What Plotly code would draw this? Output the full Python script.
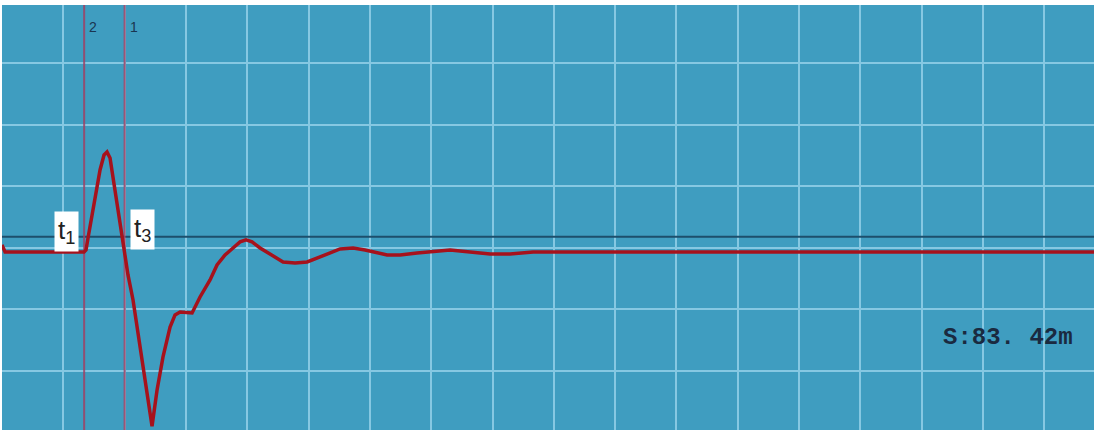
import plotly.graph_objects as go

# Reflected waveform, in grid divisions (x: distance, y: amplitude)
dist = [0.0, 0.05, 1.338, 1.37, 1.403, 1.468, 1.533, 1.599, 1.664, 1.713, 1.762,
        1.827, 1.892, 1.958, 2.007, 2.055, 2.137, 2.251, 2.365, 2.447, 2.529,
        2.626, 2.741, 2.822, 2.904, 3.018, 3.10, 3.23, 3.393, 3.507, 3.638,
        3.768, 3.883, 3.98, 4.078, 4.209, 4.372, 4.584, 4.78, 4.976, 5.188,
        5.514, 5.726, 5.922, 6.281, 6.493, 6.77, 7.064, 7.308, 7.635, 7.961,
        8.287, 8.564, 8.662, 17.81]
amp = [0.05, -0.065, -0.065, -0.033, 0.163, 0.537, 0.862, 1.268, 1.512, 1.561, 1.463,
       1.024, 0.585, 0.163, -0.114, -0.439, -0.846, -1.61, -2.309, -2.9, -2.309,
       -1.772, -1.285, -1.089, -1.041, -1.057, -1.057, -0.797, -0.52, -0.276, -0.114,
       0.0, 0.098, 0.13, 0.098, 0.0, -0.098, -0.228, -0.244, -0.228, -0.146,
       -0.016, 0.0, -0.033, -0.114, -0.114, -0.081, -0.049, -0.033, -0.065, -0.098,
       -0.098, -0.081, -0.065, -0.065]

# Reference level and cursors
ref_level = 0.18
cursor_pos = [1.34, 2.0]
cursor_names = ["2", "1"]

# Time markers
marker_names = ["t<sub>1</sub>", "t<sub>3</sub>"]
marker_x = [1.044, 2.284]
marker_y = [0.27, 0.3]

distance_text = "<b>S:83. 42m</b>"

x_range = [0, 17.81]
y_range = [-2.96, 3.95]

fig = go.Figure()

fig.add_trace(go.Scatter(
    x=x_range, y=[ref_level, ref_level], mode="lines",
    line=dict(color="#1d4f6c", width=2), hoverinfo="skip", showlegend=False))

for cx in cursor_pos:
    fig.add_trace(go.Scatter(
        x=[cx, cx], y=y_range, mode="lines",
        line=dict(color="rgba(160,65,100,0.85)", width=2),
        hoverinfo="skip", showlegend=False))

fig.add_trace(go.Scatter(
    x=dist, y=amp, mode="lines",
    line=dict(color="#a6121c", width=3.5), showlegend=False))

for cx, name in zip(cursor_pos, cursor_names):
    fig.add_annotation(x=cx, y=3.6, text=name, showarrow=False,
                       xanchor="left", xshift=3,
                       font=dict(family="Liberation Sans", size=14, color="#1a3550"))

for mx, my, name in zip(marker_x, marker_y, marker_names):
    fig.add_annotation(x=mx, y=my, text=name, showarrow=False,
                       bgcolor="white", borderpad=3,
                       font=dict(family="Liberation Sans", size=26, color="#222222"))

fig.add_annotation(x=16.4, y=-1.45, text=distance_text, showarrow=False,
                   font=dict(family="Liberation Mono", size=24, color="#1a2a40"))

axis_common = dict(showgrid=True, gridcolor="#86c8e2", gridwidth=2, dtick=1, tick0=0,
                   zeroline=False, showticklabels=False, ticks="", showline=False,
                   fixedrange=True)

fig.update_layout(
    width=1096, height=432,
    margin=dict(l=2, r=2, t=5, b=2),
    paper_bgcolor="white",
    plot_bgcolor="#3f9dc0",
    xaxis=dict(range=x_range, **axis_common),
    yaxis=dict(range=y_range, **axis_common),
)

fig.write_html("out.html")
